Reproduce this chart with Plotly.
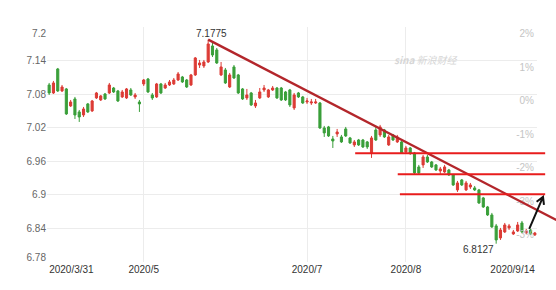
import math
import pandas as pd
import plotly.graph_objects as go

# ---------------- data ----------------
holidays = ["2020-04-06", "2020-05-01", "2020-05-04", "2020-05-05", "2020-06-25", "2020-06-26"]
dates = [d.strftime("%Y-%m-%d") for d in pd.bdate_range("2020-03-31", "2020-09-14")
         if d.strftime("%Y-%m-%d") not in holidays]

open_ = [7.0964, 7.0821, 7.1250, 7.0857, 7.0893, 7.0589, 7.0714, 7.0482, 7.0428, 7.0625,
         7.0500, 7.0732, 7.0696, 7.0803, 7.0821, 7.0910, 7.0857, 7.0750, 7.0732, 7.0875,
         7.0750, 7.0660, 7.0982, 7.1071, 7.0785, 7.0750, 7.0982, 7.0910, 7.0964, 7.0982,
         7.1053, 7.1107, 7.1053, 7.0964, 7.1143, 7.1321, 7.1304, 7.1375, 7.1661, 7.1590,
         7.1143, 7.1232, 7.0928, 7.1286, 7.1143, 7.0893, 7.0732, 7.0821, 7.0589, 7.0732,
         7.0875, 7.0750, 7.0875, 7.0910, 7.0910, 7.0839, 7.0875, 7.0553, 7.0821, 7.0750,
         7.0660, 7.0642, 7.0642, 7.0642, 7.0196, 7.0214, 6.9999, 7.0088, 7.0035, 7.0178,
         7.0017, 6.9892, 6.9981, 6.9981, 6.9946, 6.9749, 7.0160, 7.0071, 7.0160, 6.9892,
         7.0071, 6.9946, 6.9946, 6.9767, 6.9838, 6.9749, 6.9499, 6.9535, 6.9677, 6.9588,
         6.9535, 6.9427, 6.9409, 6.9445, 6.9356, 6.9088, 6.9267, 6.9088, 6.9141, 6.9124,
         6.9088, 6.8945, 6.8784, 6.8641, 6.8445, 6.8230, 6.8337, 6.8409, 6.8301, 6.8355,
         6.8498, 6.8319, 6.8373, 6.8284]
high = [7.1000, 7.1036, 7.1268, 7.0964, 7.0910, 7.0696, 7.0750, 7.0517, 7.0571, 7.0642,
        7.0696, 7.0839, 7.0785, 7.0821, 7.1000, 7.0928, 7.0875, 7.0875, 7.0910, 7.0910,
        7.0821, 7.0696, 7.1071, 7.1089, 7.0821, 7.1000, 7.1000, 7.1000, 7.1053, 7.1089,
        7.1196, 7.1125, 7.1071, 7.1161, 7.1464, 7.1411, 7.1411, 7.1775, 7.1715, 7.1625,
        7.1375, 7.1268, 7.1179, 7.1321, 7.1161, 7.0910, 7.0893, 7.0839, 7.0696, 7.0910,
        7.0964, 7.0893, 7.0946, 7.0928, 7.0928, 7.0857, 7.0893, 7.0821, 7.0839, 7.0768,
        7.0732, 7.0714, 7.0714, 7.0660, 7.0232, 7.0232, 7.0053, 7.0178, 7.0071, 7.0214,
        7.0035, 6.9981, 6.9999, 6.9999, 6.9963, 7.0053, 7.0232, 7.0250, 7.0178, 7.0071,
        7.0088, 7.0071, 6.9963, 6.9874, 6.9856, 6.9767, 6.9535, 6.9713, 6.9713, 6.9606,
        6.9552, 6.9499, 6.9535, 6.9463, 6.9374, 6.9249, 6.9284, 6.9249, 6.9213, 6.9159,
        6.9106, 6.8963, 6.8802, 6.8677, 6.8480, 6.8409, 6.8498, 6.8480, 6.8373, 6.8516,
        6.8534, 6.8391, 6.8391, 6.8337]
low = [7.0785, 7.0803, 7.0839, 7.0839, 7.0428, 7.0571, 7.0356, 7.0303, 7.0392, 7.0464,
       7.0482, 7.0714, 7.0678, 7.0696, 7.0803, 7.0821, 7.0660, 7.0732, 7.0714, 7.0768,
       7.0714, 7.0482, 7.0946, 7.0821, 7.0696, 7.0732, 7.0803, 7.0893, 7.0946, 7.0964,
       7.1036, 7.1000, 7.0910, 7.0946, 7.1125, 7.1268, 7.1268, 7.1357, 7.1464, 7.1339,
       7.1125, 7.0982, 7.0910, 7.1071, 7.0803, 7.0696, 7.0696, 7.0589, 7.0553, 7.0714,
       7.0839, 7.0732, 7.0857, 7.0714, 7.0678, 7.0678, 7.0571, 7.0517, 7.0732, 7.0625,
       7.0625, 7.0607, 7.0625, 7.0178, 7.0035, 7.0035, 6.9838, 7.0035, 6.9928, 7.0035,
       6.9910, 6.9856, 6.9874, 6.9838, 6.9820, 6.9660, 6.9963, 7.0035, 7.0017, 6.9874,
       6.9963, 6.9928, 6.9731, 6.9749, 6.9713, 6.9374, 6.9356, 6.9481, 6.9570, 6.9481,
       6.9427, 6.9374, 6.9392, 6.9338, 6.9159, 6.9052, 6.9159, 6.9070, 6.9106, 6.9070,
       6.8838, 6.8766, 6.8623, 6.8409, 6.8127, 6.8194, 6.8319, 6.8373, 6.8284, 6.8337,
       6.8319, 6.8301, 6.8284, 6.8266]
close = [7.0821, 7.1000, 7.0857, 7.0928, 7.0446, 7.0660, 7.0428, 7.0392, 7.0535, 7.0482,
         7.0678, 7.0821, 7.0768, 7.0714, 7.0964, 7.0839, 7.0678, 7.0839, 7.0893, 7.0785,
         7.0785, 7.0625, 7.1053, 7.0839, 7.0732, 7.0982, 7.0821, 7.0964, 7.1018, 7.1053,
         7.1161, 7.1018, 7.0928, 7.1143, 7.1447, 7.1357, 7.1375, 7.1697, 7.1500, 7.1357,
         7.1286, 7.1000, 7.1143, 7.1089, 7.0821, 7.0714, 7.0785, 7.0607, 7.0642, 7.0839,
         7.0910, 7.0875, 7.0910, 7.0732, 7.0696, 7.0696, 7.0607, 7.0785, 7.0750, 7.0642,
         7.0678, 7.0660, 7.0660, 7.0196, 7.0107, 7.0053, 6.9963, 7.0124, 6.9946, 7.0053,
         6.9928, 6.9946, 6.9892, 6.9856, 6.9856, 7.0017, 6.9981, 7.0214, 7.0035, 7.0035,
         6.9981, 7.0035, 6.9749, 6.9838, 6.9749, 6.9392, 6.9392, 6.9677, 6.9588, 6.9499,
         6.9445, 6.9463, 6.9499, 6.9356, 6.9177, 6.9213, 6.9177, 6.9213, 6.9177, 6.9088,
         6.8855, 6.8784, 6.8641, 6.8427, 6.8194, 6.8373, 6.8462, 6.8445, 6.8337, 6.8462,
         6.8337, 6.8355, 6.8301, 6.8319]

grid_levels = [6.78, 6.84, 6.90, 6.96, 7.02, 7.08, 7.14, 7.20]
left_labels = ["6.78", "6.84", "6.9", "6.96", "7.02", "7.08", "7.14", "7.2"]
right_labels = ["-4%", "-3%", "-3%", "-2%", "-1%", "0%", "1%", "2%"]

x_ticks_mid = {"2020-05-06": "2020/5", "2020-07-01": "2020/7", "2020-08-03": "2020/8"}
first_label, last_label = "2020/3/31", "2020/9/14"

peak_idx, peak_val = 37, 7.1775
low_idx, low_val = 104, 6.8127
trend_end = (118.0, 6.855)          # (trading-day position, price)
support_levels = [6.9745, 6.9368, 6.9012]
support_start = [71.2, 81.1, 81.6]
support_end = 115.4
arrow_tail = (111.7, 6.8391)
arrow_head = (114.9, 6.8963)

# ---------------- layout constants ----------------
W, H = 556, 290
ML, MR, MT, MB = 47, 19, 27, 28
PW, PH = W - ML - MR, H - MT - MB
n = len(close)
XR = [-0.5, n - 0.5]
YR = [grid_levels[0], grid_levels[-1]]
px_per_price = PH / (YR[1] - YR[0])

def xp(i):
    return (i - XR[0]) / (XR[1] - XR[0])

def yp(v):
    return (v - YR[0]) / (YR[1] - YR[0])

xpos = list(range(n))
RED, GREEN = "#dc3b35", "#3a9f3a"
FONT = "Arial, Liberation Sans, sans-serif"

fig = go.Figure()
fig.add_trace(go.Candlestick(
    x=xpos, open=open_, high=high, low=low, close=close,
    increasing=dict(line=dict(color=RED, width=1), fillcolor=RED),
    decreasing=dict(line=dict(color=GREEN, width=1), fillcolor=GREEN),
    whiskerwidth=0, showlegend=False, hoverinfo="skip",
    customdata=dates,
))

# invisible carrier traces so the overlay axes (extra tick labels) are drawn
for xa, ya in (("x2", "y"), ("x3", "y"), ("x", "y2"), ("x", "y3")):
    fig.add_trace(go.Scatter(x=[0], y=[close[0]], xaxis=xa, yaxis=ya, mode="markers",
                             marker=dict(opacity=0), showlegend=False, hoverinfo="skip"))

# trend line (extends past plot edge -> paper coords)
fig.add_shape(type="line", xref="paper", yref="paper",
              x0=xp(peak_idx), y0=yp(peak_val), x1=xp(trend_end[0]), y1=yp(trend_end[1]),
              line=dict(color="#b3262b", width=2.4))
for lvl, s in zip(support_levels, support_start):
    fig.add_shape(type="line", xref="paper", yref="paper",
                  x0=xp(s), y0=yp(lvl), x1=xp(support_end), y1=yp(lvl),
                  line=dict(color="#e81c1c", width=2))

# arrow as path
hx, hy = ML + xp(arrow_head[0]) * PW, MT + (1 - yp(arrow_head[1])) * PH
tx, ty = ML + xp(arrow_tail[0]) * PW, MT + (1 - yp(arrow_tail[1])) * PH
dx, dy = hx - tx, hy - ty
L = math.hypot(dx, dy)
ux, uy = dx / L, dy / L
arms = []
for ang in (math.radians(30), -math.radians(30)):
    rx = ux * math.cos(ang) - uy * math.sin(ang)
    ry = ux * math.sin(ang) + uy * math.cos(ang)
    arms.append((hx - 8 * rx, hy - 8 * ry))

def topaper(x, y):
    return (x - ML) / PW, 1 - (y - MT) / PH

pts = [topaper(tx, ty), topaper(hx, hy), topaper(*arms[0]), topaper(*arms[1])]
path = "M {0[0]},{0[1]} L {1[0]},{1[1]} M {2[0]},{2[1]} L {1[0]},{1[1]} L {3[0]},{3[1]}".format(*pts)
fig.add_shape(type="path", xref="paper", yref="paper", path=path,
              line=dict(color="#111111", width=2))

# annotations
fig.add_annotation(x=peak_idx, y=peak_val, xref="x", yref="y", text=f"{peak_val:.4f}",
                   showarrow=False, yanchor="bottom", xshift=3, yshift=-1,
                   font=dict(size=10, color="#333", family=FONT))
fig.add_annotation(x=low_idx, y=low_val, xref="x", yref="y", text=f"{low_val:.4f}",
                   showarrow=False, yanchor="top", xanchor="right", yshift=2,
                   font=dict(size=10, color="#333", family=FONT))
fig.add_annotation(x=(460 - ML) / PW, y=1 - (50 - MT) / PH, xref="paper", yref="paper",
                   text="<b><i>sina</i></b> <i>新浪财经</i>", showarrow=False,
                   font=dict(size=10, color="#d6d6d6", family="Noto Sans CJK SC, Arial"))

shift = 6.5 / px_per_price
left_pos = [grid_levels[0] + 5 / px_per_price] + grid_levels[1:-1] + [grid_levels[-1] - 6 / px_per_price]
right_pos = [grid_levels[0] + 5 / px_per_price] + [g - shift for g in grid_levels[1:]]

axis_common = dict(showline=False, zeroline=False, ticks="", fixedrange=True)
fig.update_layout(
    width=W, height=H, margin=dict(l=ML, r=MR, t=MT, b=MB),
    paper_bgcolor="white", plot_bgcolor="white",
    font=dict(family=FONT, size=10, color="#333"),
    xaxis=dict(range=XR, tickvals=[dates.index(d) for d in x_ticks_mid],
               ticktext=list(x_ticks_mid.values()), showgrid=True, gridcolor="#ececec",
               rangeslider=dict(visible=False), tickfont=dict(size=10, color="#333"), **axis_common),
    xaxis2=dict(range=XR, overlaying="x", anchor="y", side="bottom", tickvals=[0],
                ticktext=[first_label], ticklabelposition="outside right", showgrid=False,
                tickfont=dict(size=10, color="#333"), **axis_common),
    xaxis3=dict(range=XR, overlaying="x", anchor="y", side="bottom", tickvals=[n - 1],
                ticktext=[last_label], ticklabelposition="outside left", showgrid=False,
                tickfont=dict(size=10, color="#333"), **axis_common),
    yaxis=dict(range=YR, tickvals=grid_levels, showticklabels=False, showgrid=True,
               gridcolor="#ececec", **axis_common),
    yaxis3=dict(range=YR, overlaying="y", side="left", anchor="x", tickvals=left_pos,
                ticktext=left_labels, showgrid=False, tickfont=dict(size=10, color="#666"),
                **axis_common),
    yaxis2=dict(range=YR, overlaying="y", side="right", anchor="x", tickvals=right_pos,
                ticktext=right_labels, ticklabelposition="inside", showgrid=False,
                tickfont=dict(size=10, color="#c4c4c4"), **axis_common),
    showlegend=False,
)

fig.write_html("out.html", config={"displayModeBar": False})
